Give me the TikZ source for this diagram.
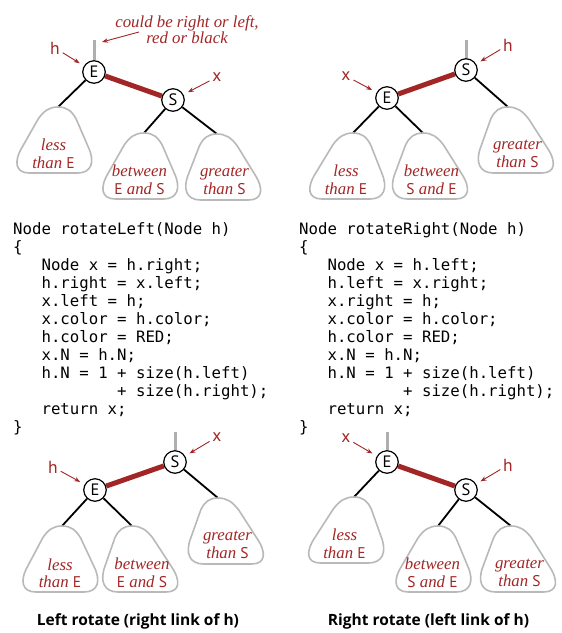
\documentclass[tikz,border=0pt]{standalone}
\usepackage{fontspec}
\setmainfont{Liberation Serif}
\setsansfont{PT Sans}
\setmonofont{DejaVu Sans Mono}
\newfontfamily\captionfont{Open Sans}
\usetikzlibrary{arrows.meta}

\definecolor{bookred}{RGB}{163,38,38}
\definecolor{blobgray}{RGB}{185,185,185}
\definecolor{stubgray}{RGB}{175,175,175}

\pgfdeclarelayer{back}
\pgfsetlayers{back,main}

\tikzset{
  key/.style={circle, draw=black, line width=1.2pt, fill=white, minimum size=22.5pt,
    inner sep=0pt, font=\sffamily\fontsize{16.5}{16.5}\selectfont},
  link/.style={line width=1.8pt, black},
  redlink/.style={line width=5pt, bookred},
  stub/.style={line width=3pt, stubgray},
  blobline/.style={draw=blobgray, line width=1.6pt, fill=white},
  blobtext/.style={text=bookred, align=center, inner sep=0pt,
    font=\fontsize{16.8}{17.5}\selectfont\itshape},
  ptrlabel/.style={text=bookred, inner sep=1pt, font=\sffamily\fontsize{17.5}{17.5}\selectfont},
  ptr/.style={draw=bookred, line width=0.9pt, shorten <=2pt, shorten >=5pt,
    -{Stealth[length=6pt,width=4.5pt]}},
  note/.style={text=bookred, align=center, inner sep=0pt,
    font=\fontsize{16.8}{15}\selectfont\itshape},
  code/.style={anchor=north west, align=left, inner sep=0pt,
    font=\ttfamily\fontsize{15.7}{18}\selectfont},
  caption/.style={anchor=base, inner sep=0pt, font=\captionfont\bfseries\fontsize{15.5}{16}\selectfont},
}

% upright key letter inside italic subtree text
\newcommand\keyletter[1]{{\upshape\sffamily\fontsize{15.5}{17.5}\selectfont #1}}

% subtree blob: #1 apex coordinate, #2 name of its text, #3 offset of the base, #4 text
\newcommand\subtree[4]{%
  \begin{scope}[shift={(#1)}]
    \path[blobline, xslant={-(#3)/66}]
      (0,0) .. controls (9,0) and (14,4) .. (19,12) -- (33,40)
      .. controls (41,55) and (38,66) .. (24,66) -- (-24,66)
      .. controls (-38,66) and (-41,55) .. (-33,40) -- (-19,12)
      .. controls (-14,4) and (-9,0) .. (0,0) -- cycle;
    \node[blobtext] (#2) at (#3,47) {#4};
  \end{scope}}

\begin{document}
\begin{tikzpicture}[x=1pt,y=-1pt]
\useasboundingbox (0,0) rectangle (562,633);
\begin{pgfonlayer}{back}
  \fill[white] (0,0) rectangle (562,633);
\end{pgfonlayer}

% ---------- left rotate, before ----------
\node[key] (tl-E) at (94,72) {E};
\node[key] (tl-S) at (173,100) {S};
\coordinate (tl-top) at (94,40);
\coordinate (tl-a1) at (58,107);
\coordinate (tl-a2) at (144,133);
\coordinate (tl-a3) at (217,134);
\begin{pgfonlayer}{back}
  \draw[stub] (tl-top) -- (tl-E);
  \draw[redlink] (tl-E) -- (tl-S);
  \draw[link] (tl-E) -- (tl-a1);
  \draw[link] (tl-S) -- (tl-a2);
  \draw[link] (tl-S) -- (tl-a3);
\end{pgfonlayer}
\subtree{tl-a1}{tl-t1}{-4.5}{less\\than \keyletter{E}}
\subtree{tl-a2}{tl-t2}{-4.5}{between\\\keyletter{E} and \keyletter{S}}
\subtree{tl-a3}{tl-t3}{7.5}{greater\\than \keyletter{S}}
\node[ptrlabel] (tl-h) at (55,48) {h};
\node[ptrlabel] (tl-x) at (217,77) {x};
\draw[ptr] (tl-h) -- (tl-E);
\draw[ptr] (tl-x) -- (tl-S);
\node[note] (tl-note) at (187,30) {could be right or left,\\red or black};
\coordinate (tl-nstart) at (139,32);
\coordinate (tl-ntip) at (102,42);
\draw[ptr, shorten <=0pt, shorten >=0pt] (tl-nstart) -- (tl-ntip);

% ---------- right rotate, before ----------
\node[key] (tr-S) at (466,70) {S};
\node[key] (tr-E) at (387,98) {E};
\coordinate (tr-top) at (466,40);
\coordinate (tr-a1) at (353,133);
\coordinate (tr-a2) at (423,133);
\coordinate (tr-a3) at (508,107);
\begin{pgfonlayer}{back}
  \draw[stub] (tr-top) -- (tr-S);
  \draw[redlink] (tr-S) -- (tr-E);
  \draw[link] (tr-E) -- (tr-a1);
  \draw[link] (tr-E) -- (tr-a2);
  \draw[link] (tr-S) -- (tr-a3);
\end{pgfonlayer}
\subtree{tr-a1}{tr-t1}{-7}{less\\than \keyletter{E}}
\subtree{tr-a2}{tr-t2}{8.5}{between\\\keyletter{S} and \keyletter{E}}
\subtree{tr-a3}{tr-t3}{9.5}{greater\\than \keyletter{S}}
\node[ptrlabel] (tr-h) at (508,45) {h};
\node[ptrlabel] (tr-x) at (346,76) {x};
\draw[ptr] (tr-h) -- (tr-S);
\draw[ptr] (tr-x) -- (tr-E);

% ---------- code ----------
\node[code] (code-l) at (13,222) {Node rotateLeft(Node h)\\
\{\\
\hphantom{000}Node x = h.right;\\
\hphantom{000}h.right = x.left;\\
\hphantom{000}x.left = h;\\
\hphantom{000}x.color = h.color;\\
\hphantom{000}h.color = RED;\\
\hphantom{000}x.N = h.N;\\
\hphantom{000}h.N = 1 + size(h.left)\\
\hphantom{00000000000}+ size(h.right);\\
\hphantom{000}return x;\\
\}};
\node[code] (code-r) at (299,222) {Node rotateRight(Node h)\\
\{\\
\hphantom{000}Node x = h.left;\\
\hphantom{000}h.left = x.right;\\
\hphantom{000}x.right = h;\\
\hphantom{000}x.color = h.color;\\
\hphantom{000}h.color = RED;\\
\hphantom{000}x.N = h.N;\\
\hphantom{000}h.N = 1 + size(h.left)\\
\hphantom{00000000000}+ size(h.right);\\
\hphantom{000}return x;\\
\}};

% ---------- left rotate, after ----------
\node[key] (bl-S) at (175,462) {S};
\node[key] (bl-E) at (95,490) {E};
\coordinate (bl-top) at (175,432);
\coordinate (bl-a1) at (62,526);
\coordinate (bl-a2) at (132,526);
\coordinate (bl-a3) at (218,498);
\begin{pgfonlayer}{back}
  \draw[stub] (bl-top) -- (bl-S);
  \draw[redlink] (bl-S) -- (bl-E);
  \draw[link] (bl-E) -- (bl-a1);
  \draw[link] (bl-E) -- (bl-a2);
  \draw[link] (bl-S) -- (bl-a3);
\end{pgfonlayer}
\subtree{bl-a1}{bl-t1}{-2}{less\\than \keyletter{E}}
\subtree{bl-a2}{bl-t2}{10}{between\\\keyletter{E} and \keyletter{S}}
\subtree{bl-a3}{bl-t3}{9.5}{greater\\than \keyletter{S}}
\node[ptrlabel] (bl-x) at (217,437) {x};
\node[ptrlabel] (bl-h) at (53,467) {h};
\draw[ptr] (bl-x) -- (bl-S);
\draw[ptr] (bl-h) -- (bl-E);
\node[caption] (cap-l) at (138,625.5) {Left rotate (right link of h)};

% ---------- right rotate, after ----------
\node[key] (br-E) at (387,462) {E};
\node[key] (br-S) at (466,490) {S};
\coordinate (br-top) at (387,432);
\coordinate (br-a1) at (354,497);
\coordinate (br-a2) at (438,526);
\coordinate (br-a3) at (511,526);
\begin{pgfonlayer}{back}
  \draw[stub] (br-top) -- (br-E);
  \draw[redlink] (br-E) -- (br-S);
  \draw[link] (br-E) -- (br-a1);
  \draw[link] (br-S) -- (br-a2);
  \draw[link] (br-S) -- (br-a3);
\end{pgfonlayer}
\subtree{br-a1}{br-t1}{-9.5}{less\\than \keyletter{E}}
\subtree{br-a2}{br-t2}{-5.5}{between\\\keyletter{S} and \keyletter{E}}
\subtree{br-a3}{br-t3}{8.5}{greater\\than \keyletter{S}}
\node[ptrlabel] (br-x) at (346,438) {x};
\node[ptrlabel] (br-h) at (508,465) {h};
\draw[ptr] (br-x) -- (br-E);
\draw[ptr] (br-h) -- (br-S);
\node[caption] (cap-r) at (428.5,625.5) {Right rotate (left link of h)};
\end{tikzpicture}
\end{document}
